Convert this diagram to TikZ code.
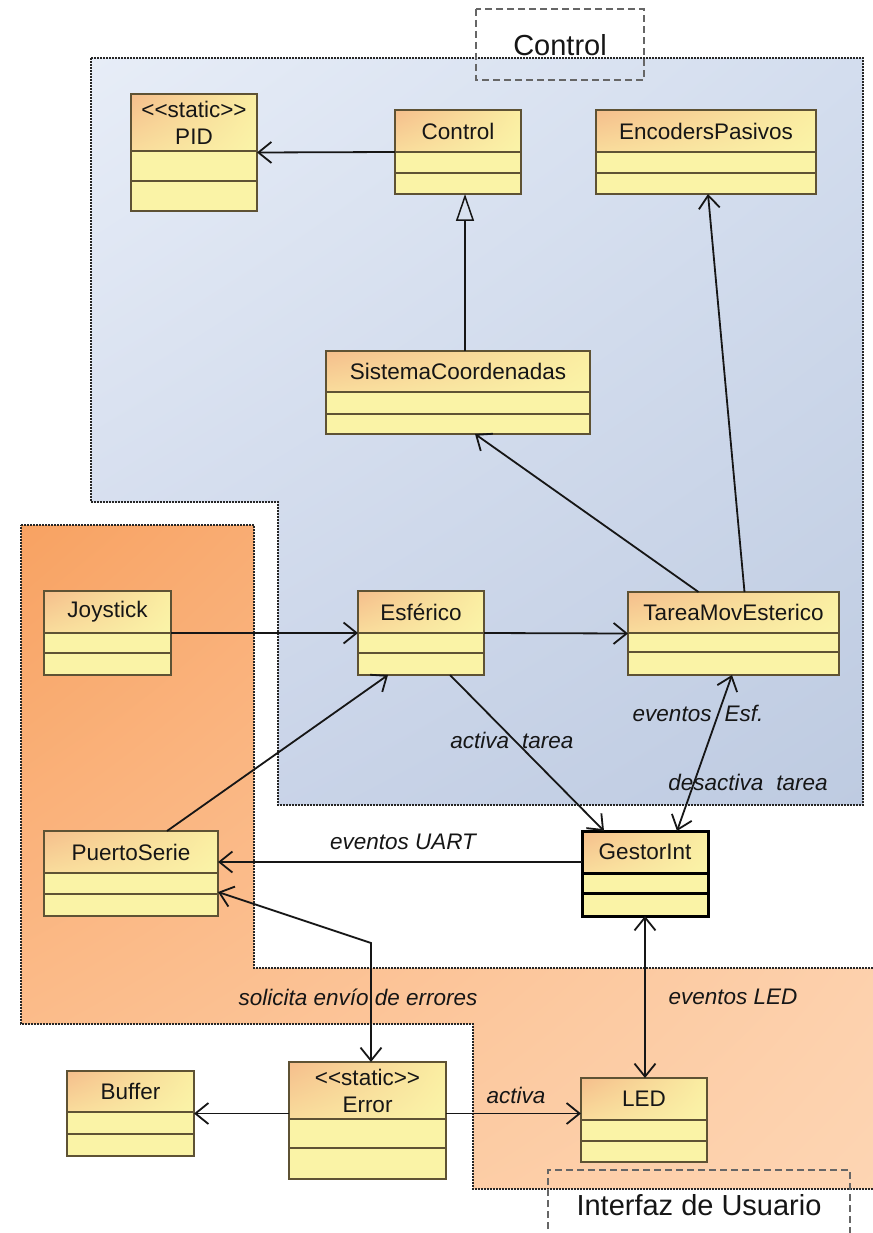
\documentclass[tikz,border=0pt]{standalone}
\usepackage{fontspec}
\setmainfont{Liberation Sans}
\usetikzlibrary{arrows.meta,shadings}
\definecolor{clsor}{HTML}{F5BE8C}
\definecolor{clsmid}{HTML}{F9DC9C}
\definecolor{clsyl}{HTML}{FAEEA2}
\definecolor{clsyl2}{HTML}{FAF4A8}
\definecolor{clsfillc}{HTML}{FAF3A6}
\definecolor{clsedge}{HTML}{5E5234}
\definecolor{blueUL}{HTML}{E7EDF7}
\definecolor{blueUR}{HTML}{D3DDEE}
\definecolor{blueLL}{HTML}{CCD6EA}
\definecolor{blueLR}{HTML}{BECBE1}
\definecolor{orUL}{HTML}{F8A262}
\definecolor{orUR}{HTML}{FCC8A0}
\definecolor{orLL}{HTML}{FCC497}
\definecolor{orLR}{HTML}{FDD5B3}
\definecolor{inkc}{HTML}{161616}
\tikzset{
  clsframe/.style={draw=clsedge, line width=1.3pt, inner sep=0pt, outer sep=0pt, rectangle},
  clsline/.style={draw=clsedge, line width=1.3pt},
  clstext/.style={inner sep=0pt, text=inkc, align=center, font=\fontsize{22.5}{27}\selectfont},
  lbl/.style={inner sep=0pt, text=inkc, font=\fontsize{22.5}{27}\selectfont\itshape},
  pkgtext/.style={inner sep=0pt, text=inkc, font=\fontsize{29}{34}\selectfont},
  pkgdot/.style={draw=black!85, line width=1.6pt, dash pattern=on 1.6pt off 1.4pt},
  pkgdash/.style={draw=black!60, line width=1.3pt, dash pattern=on 7pt off 4pt},
  conn/.style={draw=inkc, line width=1.8pt},
  barb/.tip={Straight Barb[length=13pt,width=21pt,line width=1.8pt]},
  gen/.tip={Triangle[open,length=27pt,width=18pt,line width=1.5pt]},
  thickbox/.style={line width=3pt, draw=black}
}
\newcommand\stat{<\kern0pt<static>\kern0pt>}
\newcommand\umlbox[9][]{%
  \fill[clsfillc] (#3,#4) rectangle (#5,#6);
  \shade[upper left=clsor, lower left=clsmid, upper right=clsyl, lower right=clsyl2] (#3,#4) rectangle (#5,#7);
  \draw[clsline,#1] (#3,#7) -- (#5,#7) (#3,#8) -- (#5,#8);
  \node[clsframe,#1,minimum width={#5-#3},minimum height={#6-#4}] (#2) at ({(#3+#5)/2},{(#4+#6)/2}) {};
  \node[clstext] (#2-t) at ({(#3+#5)/2},{(#4+#7)/2}) {#9};
}
\begin{document}
\begin{tikzpicture}[x=1pt,y=-1pt]
\useasboundingbox (0,0) rectangle (872,1233);
\fill[white] (0,0) rectangle (872,1233);

% package regions
\shadedraw[pkgdot, upper left=blueUL, upper right=blueUR, lower left=blueLL, lower right=blueLR]
  (91,58) -- (863,58) -- (863,805) -- (278,805) -- (278,502) -- (91,502) -- cycle;
\shadedraw[pkgdot, upper left=orUL, upper right=orUR, lower left=orLL, lower right=orLR]
  (21,525) -- (254,525) -- (254,968) -- (880,968) -- (880,1189) -- (473,1189) -- (473,1024) -- (21,1024) -- cycle;

% package labels
\draw[pkgdash] (476,9) rectangle (644,80);
\node[pkgtext] (pk-control) at (560,45) {Control};
\draw[pkgdash] (548,1240) -- (548,1170) -- (850,1170) -- (850,1240);
\node[pkgtext] (pk-ui) at (699,1205) {Interfaz de Usuario};

% classes
\umlbox{pid}{131}{94}{257}{211}{151}{181}{\stat\\PID}
\umlbox{ctrl}{395}{110}{521}{194}{152}{173}{Control}
\umlbox{enc}{596}{110}{816}{194}{152}{173}{EncodersPasivos}
\umlbox{sis}{326}{351}{590}{434}{392}{414}{SistemaCoordenadas}
\umlbox{joy}{44}{591}{171}{675}{633}{653}{Joystick}
\umlbox{esf}{358}{591}{484}{675}{633}{653}{Esférico}
\umlbox{tarea}{628}{592}{839}{675}{633}{652}{TareaMovEsterico}
\umlbox{ps}{44}{831}{218}{916}{873}{894}{PuertoSerie}
\umlbox[thickbox]{gestor}{582}{831}{708}{916}{873}{893}{GestorInt}
\umlbox{buf}{67}{1071}{194}{1156}{1112}{1134}{Buffer}
\umlbox{err}{289}{1062}{446}{1179}{1119}{1148}{\stat\\Error}
\umlbox{led}{581}{1078}{707}{1162}{1120}{1141}{LED}

% connectors
\draw[conn, -barb] (ctrl.west) -- (pid.east);
\draw[conn, -gen] ([xshift=7pt]sis.north) -- ([xshift=7pt]ctrl.south);
\draw[conn, -barb] ([xshift=-35pt]tarea.north) -- ([xshift=17pt]sis.south);
\draw[conn, -barb] ([xshift=11pt]tarea.north) -- ([xshift=2pt]enc.south);
\draw[conn, -barb] (joy.east) -- (esf.west);
\draw[conn, -barb] (esf.east) -- (tarea.west);
\draw[conn, -barb] ([xshift=36pt]ps.north) -- ([xshift=-33pt]esf.south);
\draw[conn, -barb] ([xshift=29pt]esf.south) -- ([xshift=-41pt]gestor.north);
\draw[conn, barb-barb] ([xshift=-1.5pt]tarea.south) -- ([xshift=32pt]gestor.north);
\draw[conn, -barb] ([yshift=11.5pt]gestor.west) -- ([yshift=11.5pt]ps.east);
\coordinate (bend) at (371,943);
\draw[conn, barb-barb] ([yshift=-18.5pt]ps.east) -- (bend) -- ([xshift=3.5pt]err.north);
\draw[conn, barb-barb] (gestor.south) -- (gestor.south |- led.north);
\draw[conn, -barb] (err.west |- buf.east) -- (buf.east);
\draw[conn, -barb] (err.east |- buf.east) -- (led.west |- buf.east);

% labels
\node[lbl] (l-act) at (512,740) {activa\hspace*{13pt}tarea};
\node[lbl] (l-evesf) at (698,713) {eventos\hspace*{13pt}Esf.};
\node[lbl] (l-desact) at (748,782) {desactiva\hspace*{13pt}tarea};
\node[lbl] (l-uart) at (403,842) {eventos UART};
\node[lbl] (l-sol) at (358,997) {solicita envío de errores};
\node[lbl] (l-led) at (733,997) {eventos LED};
\node[lbl] (l-activa) at (516,1095) {activa};
\end{tikzpicture}
\end{document}
